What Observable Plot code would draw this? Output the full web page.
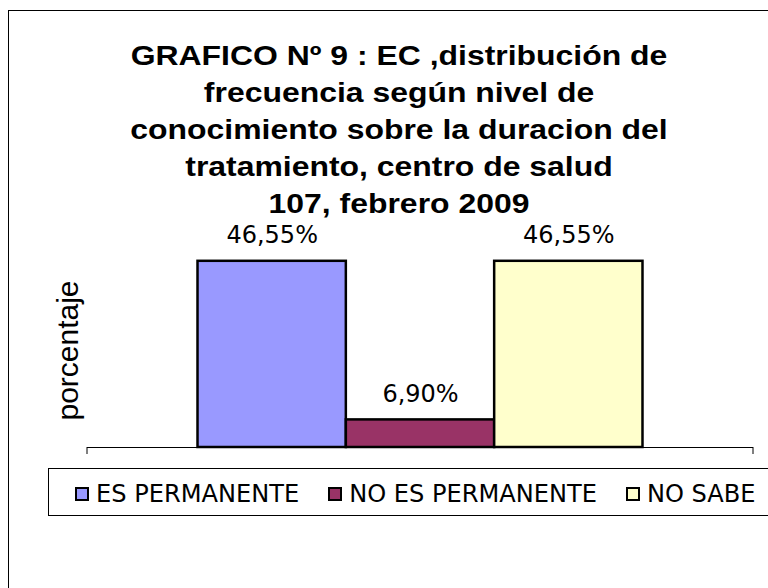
<!DOCTYPE html>
<html>
<head>
<meta charset="utf-8">
<script src="https://cdn.jsdelivr.net/npm/d3@7"></script>
<script src="https://cdn.jsdelivr.net/npm/@observablehq/plot@0.6"></script>
<style>
  html, body { margin: 0; padding: 0; background: #fff; }
  #wrap { position: relative; width: 768px; height: 588px; overflow: hidden; background: #fff; }
  #frame { position: absolute; left: 8px; top: 10px; right: -10px; bottom: -10px;
           border-top: 1.5px solid #000; border-left: 1.5px solid #000; }
  #title { position: absolute; left: 30px; width: 738px; top: 37px; text-align: center;
           font-family: "Liberation Sans", Arial, sans-serif; font-weight: bold; font-size: 28px;
           line-height: 37px; color: #000; transform: scaleX(1.14); transform-origin: 50% 0; }
  #chart { position: absolute; left: 0; top: 0; }
  #legendBox { position: absolute; left: 48px; top: 468px; width: 740px; height: 46px;
               border: 1.5px solid #000; border-bottom-width: 1px; background: #fff; }
  #legendRow { position: absolute; left: 75px; top: 480px; display: flex; align-items: center;
               font-family: "DejaVu Sans", sans-serif; font-size: 24.1px; line-height: 28px; color: #000; white-space: nowrap; }
  .item { display: flex; align-items: center; margin-right: 29px; }
  .sw { width: 10px; height: 10px; border: 2px solid #000; margin-right: 7px; }
</style>
</head>
<body>
<div id="wrap">
  <div id="frame"></div>
  <div id="title"></div>
  <div id="chart"></div>
  <div id="legendBox"></div>
  <div id="legendRow"></div>
</div>
<script>
const titleLines = [
  "GRAFICO Nº 9 : EC ,distribución de",
  "frecuencia según nivel de",
  "conocimiento sobre la duracion del",
  "tratamiento, centro de salud",
  "107, febrero 2009"
];
const categories = ["ES PERMANENTE", "NO ES PERMANENTE", "NO SABE"];
const values = [46.55, 6.90, 46.55];
const valueLabels = ["46,55%", "6,90%", "46,55%"];
const colors = ["#9999FF", "#993366", "#FFFFCC"];
const yTitle = "porcentaje";

const data = categories.map((c, i) => ({cat: c, value: values[i], label: valueLabels[i]}));

document.getElementById("title").innerHTML = titleLines.map(t => `<div>${t}</div>`).join("");

function endTicks(index, scales, values, dims) {
  const g = document.createElementNS("http://www.w3.org/2000/svg", "g");
  const y0 = scales.y(0);
  [dims.marginLeft, dims.width - dims.marginRight].forEach(x => {
    const l = document.createElementNS("http://www.w3.org/2000/svg", "line");
    l.setAttribute("x1", x); l.setAttribute("x2", x);
    l.setAttribute("y1", y0); l.setAttribute("y2", y0 + 7);
    l.setAttribute("stroke", "#000");
    g.appendChild(l);
  });
  return g;
}

const chart = Plot.plot({
  width: 768,
  height: 588,
  marginLeft: 87,
  marginRight: 15,
  marginTop: 247,
  marginBottom: 141,
  style: {background: "transparent", color: "#000"},
  x: {domain: categories, paddingInner: 0, paddingOuter: 0.745, round: false, axis: null},
  y: {domain: [0, 50], axis: null},
  color: {domain: categories, range: colors},
  marks: [
    Plot.ruleY([0], {stroke: "#000", strokeWidth: 1}),
    endTicks,
    Plot.barY(data, {x: "cat", y: "value", fill: "cat", stroke: "#000", strokeWidth: 2.5}),
    Plot.text(data, {x: "cat", y: "value", text: "label", lineAnchor: "bottom", dy: -18,
      fontSize: 24, fontFamily: "DejaVu Sans", fill: "#000"}),
    Plot.text([yTitle], {frameAnchor: "left", text: d => d, rotate: -90, textAnchor: "middle",
      lineAnchor: "middle", dx: -19, dy: 3,
      fontSize: 30, fontFamily: "Liberation Sans", fill: "#000"})
  ]
});
document.getElementById("chart").appendChild(chart);

const row = document.getElementById("legendRow");
categories.forEach((c, i) => {
  const it = document.createElement("div");
  it.className = "item";
  const sw = document.createElement("div");
  sw.className = "sw";
  sw.style.background = colors[i];
  const tx = document.createElement("span");
  tx.textContent = c;
  it.appendChild(sw); it.appendChild(tx);
  row.appendChild(it);
});
</script>
</body>
</html>
